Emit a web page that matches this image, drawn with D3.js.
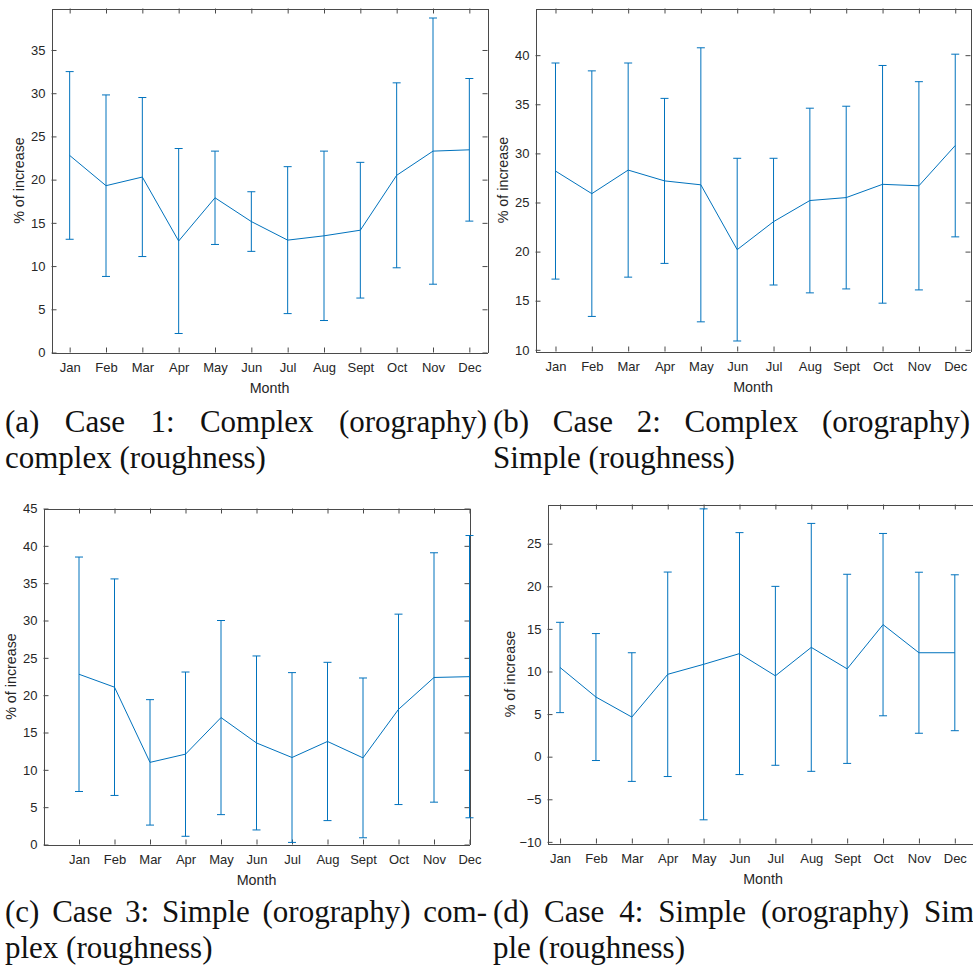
<!DOCTYPE html>
<html>
<head>
<meta charset="utf-8">
<script src="https://cdn.jsdelivr.net/npm/d3@7"></script>
<style>
  body { margin: 0; background: #fff; }
  svg { display: block; }
  .tick text { font-family: "Liberation Sans", Arial, sans-serif; font-size: 13px; fill: #262626; }
  .tick line { stroke: #4a4a4a; }
  .domain { stroke: #4a4a4a; }
  .axis-label { font-family: "Liberation Sans", Arial, sans-serif; font-size: 14.3px; fill: #262626; }
  .caption { font-family: "Liberation Serif", "Times New Roman", serif; font-size: 31px; fill: #111; }
</style>
</head>
<body>
<svg id="chart" width="973" height="967"></svg>
<script>
// month categories shared by all four panels
const months = ['Jan', 'Feb', 'Mar', 'Apr', 'May', 'Jun', 'Jul', 'Aug', 'Sept', 'Oct', 'Nov', 'Dec'];

// mean % of increase and symmetric error (half bar length)
const case1Mean = [22.8, 19.3, 20.3, 12.9, 17.9, 15.15, 13.0, 13.5, 14.15, 20.5, 23.3, 23.45];
const case1Err = [9.7, 10.5, 9.2, 10.7, 5.4, 3.45, 8.5, 9.8, 7.85, 10.7, 15.4, 8.25];

const case2Mean = [28.2, 25.9, 28.3, 27.2, 26.8, 20.2, 23.05, 25.2, 25.5, 26.85, 26.7, 30.8];
const case2Err = [11.0, 12.5, 10.9, 8.4, 13.95, 9.3, 6.45, 9.4, 9.3, 12.1, 10.6, 9.3];

const case3Mean = [22.8, 21.07, 11.0, 12.1, 17.0, 13.6, 11.65, 13.8, 11.6, 18.1, 22.37, 22.48];
const case3Err = [15.7, 14.5, 8.4, 11.0, 13.0, 11.65, 11.37, 10.6, 10.7, 12.75, 16.7, 18.9];

const case4Mean = [10.47, 7.0, 4.65, 9.67, 10.84, 12.1, 9.49, 12.83, 10.31, 15.5, 12.2, 12.2];
const case4Err = [5.3, 7.45, 7.55, 12.0, 18.25, 14.2, 10.5, 14.55, 11.1, 10.7, 9.45, 9.15];

// y tick labels per panel
const yTicksA = [0, 5, 10, 15, 20, 25, 30, 35];
const yTicksB = [10, 15, 20, 25, 30, 35, 40];
const yTicksC = [0, 5, 10, 15, 20, 25, 30, 35, 40, 45];
const yTicksD = [-10, -5, 0, 5, 10, 15, 20, 25];

// sub-figure captions (first line is justified, second is ragged)
const captionA = ['(a) Case 1: Complex (orography)', 'complex (roughness)'];
const captionB = ['(b) Case 2: Complex (orography)', 'Simple (roughness)'];
const captionC = ['(c) Case 3: Simple (orography) com-', 'plex (roughness)'];
const captionD = ['(d) Case 4: Simple (orography) Sim', 'ple (roughness)'];

const LINE_COLOR = '#0072BD';

// layout of each panel: axes box in pixels, axis limits in data units
const panels = [
  {mean: case1Mean, err: case1Err, yTicks: yTicksA, caption: captionA,
   xlim: [0.5, 12.5], ylim: [0, 39.8],
   box: {left: 51.5, right: 487.5, top: 8.5, bottom: 352.5}, yLabelX: 19,
   cap: {x0: 5, x1: 487, y: 432}},
  {mean: case2Mean, err: case2Err, yTicks: yTicksB, caption: captionB,
   xlim: [0.45, 12.42], ylim: [9.83, 44.75],
   box: {left: 535.5, right: 970.5, top: 8.5, bottom: 351.5}, yLabelX: 503,
   cap: {x0: 493, x1: 970, y: 432}},
  {mean: case3Mean, err: case3Err, yTicks: yTicksC, caption: captionC,
   xlim: [0, 12], ylim: [0, 45],
   box: {left: 43.5, right: 469.5, top: 508.5, bottom: 844.5}, yLabelX: 11,
   cap: {x0: 5, x1: 487, y: 922}},
  {mean: case4Mean, err: case4Err, yTicks: yTicksD, caption: captionD,
   xlim: [0.65, 12.66], ylim: [-10.19, 29.6],
   box: {left: 547.5, right: 978.5, top: 504.5, bottom: 843.5}, yLabelX: 510,
   cap: {x0: 493, x1: 974, y: 922}}
];

const svg = d3.select('#chart');

/**
 * draws one errorbar panel, MATLAB style (boxed axes, inward ticks)
 */
function drawPanel(p) {
  const {box} = p;
  const x = d3.scaleLinear().domain(p.xlim).range([box.left, box.right]);
  const y = d3.scaleLinear().domain(p.ylim).range([box.bottom, box.top]);
  const g = svg.append('g');
  const monthIdx = months.map((m, i) => i + 1);

  // bottom + top axes
  g.append('g')
    .attr('transform', `translate(0,${box.bottom})`)
    .call(d3.axisBottom(x).tickValues(monthIdx).tickFormat(d => months[d - 1])
      .tickSizeInner(-5).tickSizeOuter(0).tickPadding(10));
  g.append('g')
    .attr('transform', `translate(0,${box.top})`)
    .call(d3.axisTop(x).tickValues(monthIdx).tickFormat('')
      .tickSizeInner(-5).tickSizeOuter(0));
  // left + right axes
  g.append('g')
    .attr('transform', `translate(${box.left},0)`)
    .call(d3.axisLeft(y).tickValues(p.yTicks).tickFormat(d3.format('d'))
      .tickSizeInner(-5).tickSizeOuter(0).tickPadding(6));
  g.append('g')
    .attr('transform', `translate(${box.right},0)`)
    .call(d3.axisRight(y).tickValues(p.yTicks).tickFormat('')
      .tickSizeInner(-5).tickSizeOuter(0));
  g.selectAll('.domain').attr('shape-rendering', 'crispEdges');

  // axis titles
  g.append('text')
    .attr('class', 'axis-label')
    .attr('x', (box.left + box.right) / 2)
    .attr('y', box.bottom + 40)
    .attr('text-anchor', 'middle')
    .text('Month');
  g.append('text')
    .attr('class', 'axis-label')
    .attr('transform', `translate(${p.yLabelX},${(box.top + box.bottom) / 2}) rotate(-90)`)
    .attr('dy', '0.35em')
    .attr('text-anchor', 'middle')
    .text('% of increase');

  const pts = p.mean.map((v, i) => ({i: i + 1, v, e: p.err[i]}));

  // error bars
  const bars = g.append('g').attr('stroke', LINE_COLOR).attr('stroke-width', 1);
  bars.selectAll('.eb').data(pts).enter().append('line')
    .attr('x1', d => x(d.i)).attr('x2', d => x(d.i))
    .attr('y1', d => y(d.v - d.e)).attr('y2', d => y(d.v + d.e));
  bars.selectAll('.capTop').data(pts).enter().append('line')
    .attr('x1', d => x(d.i) - 4).attr('x2', d => x(d.i) + 4)
    .attr('y1', d => y(d.v + d.e)).attr('y2', d => y(d.v + d.e));
  bars.selectAll('.capBot').data(pts).enter().append('line')
    .attr('x1', d => x(d.i) - 4).attr('x2', d => x(d.i) + 4)
    .attr('y1', d => y(d.v - d.e)).attr('y2', d => y(d.v - d.e));

  // mean line
  g.append('path')
    .datum(pts)
    .attr('fill', 'none')
    .attr('stroke', LINE_COLOR)
    .attr('stroke-width', 1)
    .attr('d', d3.line().x(d => x(d.i)).y(d => y(d.v)));

  drawCaption(p.caption, p.cap);
}

/**
 * caption: first line spread between x0 and x1, second line left aligned
 */
function drawCaption(lines, cap) {
  const g = svg.append('g');
  const words = lines[0].split(' ');
  const nodes = words.map(w => g.append('text').attr('class', 'caption').attr('y', cap.y).text(w));
  const widths = nodes.map(n => n.node().getComputedTextLength());
  const gap = (cap.x1 - cap.x0 - d3.sum(widths)) / (words.length - 1);
  let cx = cap.x0;
  nodes.forEach((n, i) => {
    n.attr('x', cx);
    cx += widths[i] + gap;
  });
  g.append('text')
    .attr('class', 'caption')
    .attr('x', cap.x0)
    .attr('y', cap.y + 36)
    .text(lines[1]);
}

panels.forEach(drawPanel);
</script>
</body>
</html>
